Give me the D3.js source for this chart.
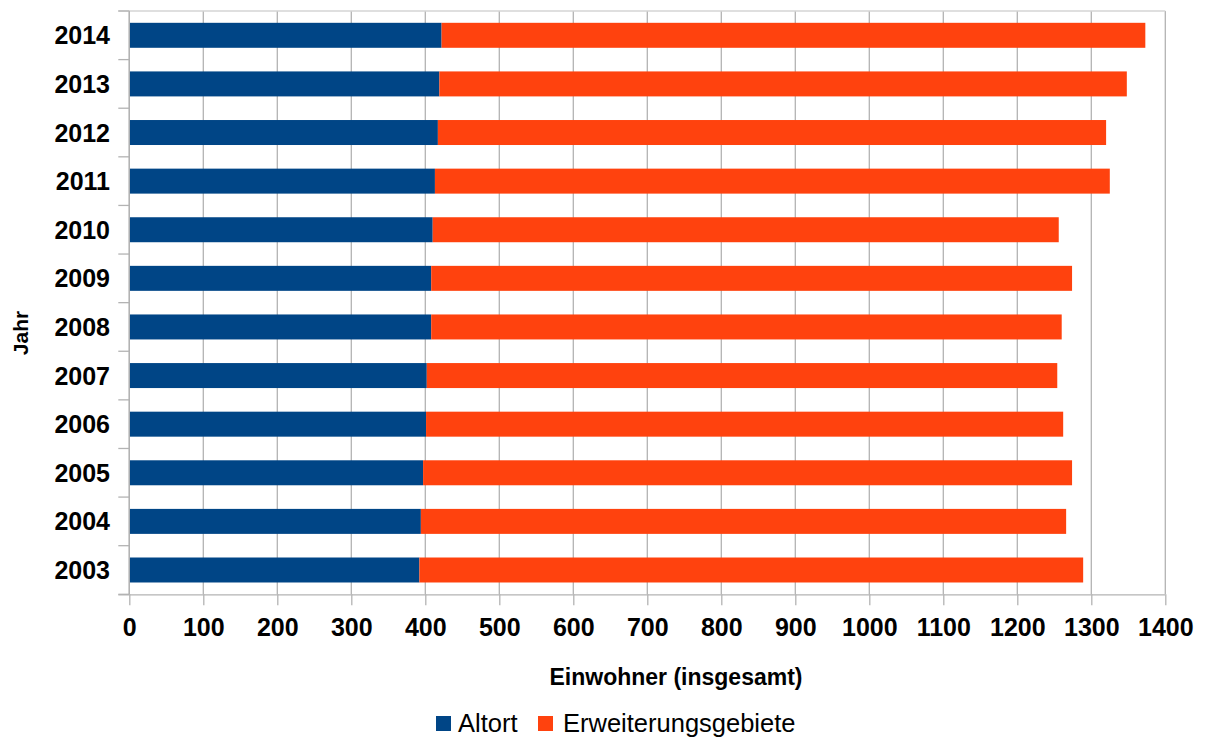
<!DOCTYPE html>
<html>
<head>
<meta charset="utf-8">
<script src="https://cdn.jsdelivr.net/npm/d3@7"></script>
<style>
  html, body { margin: 0; padding: 0; background: #fff; }
  svg { display: block; font-family: "Liberation Sans", Arial, sans-serif; }
</style>
</head>
<body>
<svg id="chart" width="1205" height="740"></svg>
<script>
// Einwohner je Jahr, aufgeteilt nach Altort und Erweiterungsgebieten
const years = ["2003", "2004", "2005", "2006", "2007", "2008", "2009", "2010", "2011", "2012", "2013", "2014"];
const altort = [392, 394, 397, 401, 402, 408, 408, 410, 413, 417, 419, 422];
const erweiterung = [897, 872, 877, 861, 852, 852, 866, 846, 912, 903, 929, 951];
const seriesNames = ["Altort", "Erweiterungsgebiete"];
const seriesColors = ["#004586", "#ff420e"];
const xTicks = [0, 100, 200, 300, 400, 500, 600, 700, 800, 900, 1000, 1100, 1200, 1300, 1400];

const rows = years.map((y, i) => ({ year: y, Altort: altort[i], Erweiterungsgebiete: erweiterung[i] }));

const svg = d3.select("#chart");
const plot = { left: 129.3, right: 1165.3, top: 11, bottom: 594.3 };
const gridColor = "#b3b3b3";

const x = d3.scaleLinear().domain([0, 1400]).range([plot.left, plot.right]);
const y = d3.scaleBand()
  .domain(years.slice().reverse())
  .range([plot.top, plot.bottom])
  .paddingInner(0.486)
  .paddingOuter(0.243);

// vertical gridlines
svg.append("g")
  .selectAll("line")
  .data(xTicks)
  .join("line")
  .attr("x1", d => x(d)).attr("x2", d => x(d))
  .attr("y1", plot.top).attr("y2", plot.bottom)
  .attr("stroke", gridColor).attr("stroke-width", 1.3);

// top border of plot area
svg.append("line")
  .attr("x1", plot.left - 11).attr("x2", plot.right)
  .attr("y1", plot.top).attr("y2", plot.top)
  .attr("stroke", "#d4d4d4").attr("stroke-width", 1.3);

// stacked bars
const stacked = d3.stack().keys(seriesNames)(rows);
svg.append("g")
  .selectAll("g")
  .data(stacked)
  .join("g")
  .attr("fill", (d, i) => seriesColors[i])
  .selectAll("rect")
  .data(d => d)
  .join("rect")
  .attr("x", d => x(d[0]))
  .attr("width", d => x(d[1]) - x(d[0]))
  .attr("y", d => y(d.data.year))
  .attr("height", y.bandwidth());

// x axis
const xAxis = svg.append("g")
  .attr("transform", `translate(0,${plot.bottom})`)
  .call(d3.axisBottom(x).tickValues(xTicks).tickFormat(d3.format("d"))
    .tickSize(11).tickSizeOuter(0).tickPadding(13));
xAxis.select(".domain").attr("stroke", gridColor).attr("stroke-width", 1.3)
  .attr("d", `M${plot.left - 11},0.5H${plot.right}`);
xAxis.selectAll(".tick line").attr("stroke", gridColor).attr("stroke-width", 1.3);
xAxis.selectAll(".tick text")
  .attr("fill", "#000")
  .style("font-size", "25px")
  .style("font-weight", "bold")
  .style("font-family", "'Liberation Sans', Arial, sans-serif");

// y axis: ticks sit on the category boundaries
const yAxisG = svg.append("g");
yAxisG.append("line")
  .attr("x1", plot.left).attr("x2", plot.left)
  .attr("y1", plot.top).attr("y2", plot.bottom)
  .attr("stroke", gridColor).attr("stroke-width", 1.3);
const step = y.step();
const boundaries = d3.range(years.length + 1).map(i => plot.top + i * step);
yAxisG.selectAll("line.tk")
  .data(boundaries)
  .join("line")
  .attr("class", "tk")
  .attr("x1", plot.left - 11).attr("x2", plot.left)
  .attr("y1", d => d).attr("y2", d => d)
  .attr("stroke", gridColor).attr("stroke-width", 1.3);
yAxisG.selectAll("text")
  .data(years)
  .join("text")
  .attr("x", 110)
  .attr("y", d => y(d) + y.bandwidth() / 2)
  .attr("dy", "0.36em")
  .attr("text-anchor", "end")
  .style("font-size", "25px")
  .style("font-weight", "bold")
  .text(d => d);

// axis titles
svg.append("text")
  .attr("x", 676).attr("y", 685)
  .attr("text-anchor", "middle")
  .style("font-size", "23px")
  .style("font-weight", "bold")
  .text("Einwohner (insgesamt)");

svg.append("text")
  .attr("transform", "translate(28,333) rotate(-90)")
  .attr("text-anchor", "middle")
  .style("font-size", "21px")
  .style("font-weight", "bold")
  .text("Jahr");

// legend
const legendItems = [
  { name: seriesNames[0], color: seriesColors[0], sx: 436, tx: 458 },
  { name: seriesNames[1], color: seriesColors[1], sx: 538, tx: 563 }
];
const legend = svg.append("g");
legend.selectAll("rect")
  .data(legendItems)
  .join("rect")
  .attr("x", d => d.sx).attr("y", 716)
  .attr("width", 15).attr("height", 15)
  .attr("fill", d => d.color);
legend.selectAll("text")
  .data(legendItems)
  .join("text")
  .attr("x", d => d.tx).attr("y", 732)
  .style("font-size", "25.5px")
  .text(d => d.name);
</script>
</body>
</html>
